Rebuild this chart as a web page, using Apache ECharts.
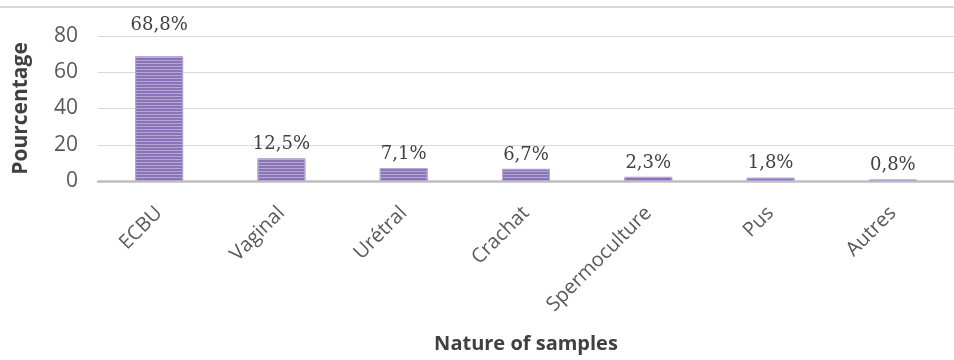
<!DOCTYPE html>
<html>
<head>
<meta charset="utf-8">
<script src="https://cdn.jsdelivr.net/npm/echarts@6/dist/echarts.min.js"></script>
<style>
  html, body { margin: 0; padding: 0; background: #fff; }
  #chart { width: 954px; height: 360px; }
</style>
</head>
<body>
<div id="chart"></div>
<script>
// Sample types and their share of all samples (%)
const categories = ['ECBU', 'Vaginal', 'Urétral', 'Crachat', 'Spermoculture', 'Pus', 'Autres'];
const percentages = [68.8, 12.5, 7.1, 6.7, 2.3, 1.8, 0.8];
const valueLabels = ['68,8%', '12,5%', '7,1%', '6,7%', '2,3%', '1,8%', '0,8%'];
const yTicks = [0, 20, 40, 60, 80];

const chart = echarts.init(document.getElementById('chart'));

const barData = percentages.map((v, i) => ({
  value: v,
  label: { formatter: valueLabels[i], distance: i === 0 ? 22 : 5 }
}));

chart.setOption({
  animation: false,
  backgroundColor: '#ffffff',
  grid: { left: 98, right: -5, top: 36, bottom: 179 },
  graphic: [{
    type: 'line',
    shape: { x1: 0, y1: 7, x2: 954, y2: 7 },
    style: { stroke: '#d9d9d9', lineWidth: 2 }
  }],
  xAxis: {
    type: 'category',
    data: categories,
    name: 'Nature of samples',
    nameLocation: 'middle',
    nameGap: 153,
    nameTextStyle: { fontFamily: 'Open Sans', fontWeight: 'bold', fontSize: 20, color: '#404040' },
    axisLine: { lineStyle: { color: '#bfbfbf', width: 2.5 } },
    axisTick: { show: false },
    axisLabel: {
      rotate: 45,
      interval: 0,
      margin: 29,
      fontFamily: 'Open Sans',
      fontSize: 20,
      color: '#595959'
    }
  },
  yAxis: {
    type: 'value',
    min: yTicks[0],
    max: yTicks[yTicks.length - 1],
    interval: 20,
    name: 'Pourcentage',
    nameLocation: 'middle',
    nameGap: 66,
    nameTextStyle: { fontFamily: 'Open Sans', fontWeight: 'bold', fontSize: 21, color: '#404040' },
    axisLine: { show: false },
    axisTick: { show: false },
    axisLabel: { fontFamily: 'Open Sans', fontSize: 21, color: '#595959', margin: 20 },
    splitLine: { lineStyle: { color: '#d9d9d9', width: 1 } }
  },
  series: [{
    type: 'bar',
    data: barData,
    barWidth: 48,
    itemStyle: {
      color: '#8a74b6',
      borderColor: '#b3a5d4',
      borderWidth: 1,
      decal: {
        symbol: 'rect',
        symbolSize: 1,
        dashArrayX: [1, 0],
        dashArrayY: [1, 2],
        rotation: 0,
        color: 'rgba(225, 215, 245, 0.5)'
      }
    },
    label: {
      show: true,
      position: 'top',
      fontFamily: 'DejaVu Serif',
      fontSize: 18,
      color: '#404040'
    }
  }]
});
</script>
</body>
</html>
